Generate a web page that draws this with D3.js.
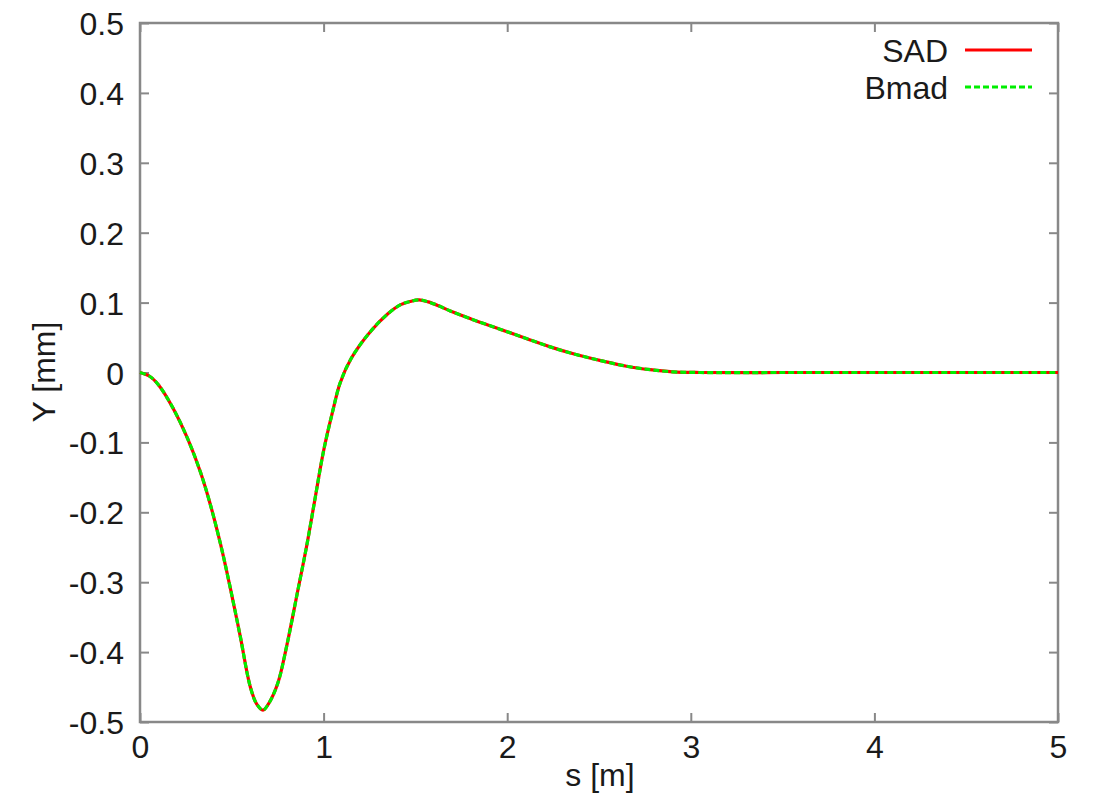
<!DOCTYPE html>
<html>
<head>
<meta charset="utf-8">
<script src="https://cdn.jsdelivr.net/npm/d3@7"></script>
<style>
html,body{margin:0;padding:0;background:#fff;}
svg text{font-family:"Liberation Sans",Arial,sans-serif;fill:#1a1a1a;}
</style>
</head>
<body>
<svg id="chart" width="1093" height="804"></svg>
<script>
const sValues = [0, 0.05, 0.1, 0.18, 0.26, 0.33, 0.38, 0.44, 0.49, 0.545, 0.6, 0.635, 0.67, 0.7, 0.75, 0.8, 0.855, 0.91, 0.955, 1.0, 1.05, 1.09, 1.15, 1.25, 1.35, 1.42, 1.47, 1.52, 1.57, 1.63, 1.69, 1.8, 1.96, 2.1, 2.23, 2.37, 2.51, 2.65, 2.78, 2.9, 3.05, 3.5, 4, 4.5, 5];
const sadY = [0, -0.005, -0.0175, -0.051, -0.095, -0.143, -0.186, -0.247, -0.306, -0.376, -0.449, -0.474, -0.483, -0.474, -0.445, -0.39, -0.318, -0.245, -0.178, -0.112, -0.055, -0.015, 0.02, 0.057, 0.084, 0.097, 0.1015, 0.104, 0.101, 0.095, 0.088, 0.077, 0.062, 0.049, 0.037, 0.026, 0.017, 0.009, 0.004, 0.001, 0, 0, 0, 0, 0];
const bmadY = [0, -0.005, -0.0175, -0.051, -0.095, -0.143, -0.186, -0.247, -0.306, -0.376, -0.449, -0.474, -0.483, -0.474, -0.445, -0.39, -0.318, -0.245, -0.178, -0.112, -0.055, -0.015, 0.02, 0.057, 0.084, 0.097, 0.1015, 0.104, 0.101, 0.095, 0.088, 0.077, 0.062, 0.049, 0.037, 0.026, 0.017, 0.009, 0.004, 0.001, 0, 0, 0, 0, 0];
const xTicks = [0, 1, 2, 3, 4, 5];
const yTicks = [-0.5, -0.4, -0.3, -0.2, -0.1, 0, 0.1, 0.2, 0.3, 0.4, 0.5];
const seriesNames = ["SAD", "Bmad"];

const svg = d3.select("#chart");
const mL = 140, mR = 1058, mT = 23, mB = 722;
const x = d3.scaleLinear().domain([0, 5]).range([mL, mR]);
const y = d3.scaleLinear().domain([-0.5, 0.5]).range([mB, mT]);
const frameColor = "#888";
const fs = 32;

const yFmt = d => d === 0 ? "0" : d.toFixed(1);

const gB = svg.append("g").attr("transform", `translate(0,${mB})`)
  .call(d3.axisBottom(x).tickValues(xTicks).tickFormat(d => String(d)).tickSizeInner(-9).tickSizeOuter(0).tickPadding(13));
const gT = svg.append("g").attr("transform", `translate(0,${mT})`)
  .call(d3.axisTop(x).tickValues(xTicks).tickFormat("").tickSizeInner(-9).tickSizeOuter(0));
const gL = svg.append("g").attr("transform", `translate(${mL},0)`)
  .call(d3.axisLeft(y).tickValues(yTicks).tickFormat(yFmt).tickSizeInner(-9).tickSizeOuter(0).tickPadding(16));
const gR = svg.append("g").attr("transform", `translate(${mR},0)`)
  .call(d3.axisRight(y).tickValues(yTicks).tickFormat("").tickSizeInner(-9).tickSizeOuter(0));
[gB, gT, gL, gR].forEach(g => {
  g.select(".domain").remove();
  g.selectAll(".tick line").attr("stroke", frameColor).attr("stroke-width", 2);
  g.selectAll(".tick text").attr("font-size", fs).attr("fill", "#1a1a1a").attr("font-family", "Liberation Sans, Arial, sans-serif");
});
gL.selectAll(".tick text").attr("dy", "0.36em");
gB.selectAll(".tick text").attr("dy", "0.72em");

svg.append("rect").attr("x", mL).attr("y", mT).attr("width", mR - mL).attr("height", mB - mT)
  .attr("fill", "none").attr("stroke", frameColor).attr("stroke-width", 2.5);

svg.append("text").attr("x", 600).attr("y", 786).attr("text-anchor", "middle").attr("font-size", fs).text("s [m]");
svg.append("text").attr("transform", `translate(55,${372}) rotate(-90)`).attr("text-anchor", "middle").attr("font-size", fs).text("Y [mm]");

const line = d3.line().x((d, i) => x(sValues[i])).y(d => y(d)).curve(d3.curveCatmullRom.alpha(0.5));

svg.append("path").datum(sadY).attr("d", line).attr("fill", "none").attr("stroke", "#ff0000").attr("stroke-width", 3.2);
svg.append("path").datum(bmadY).attr("d", line).attr("fill", "none").attr("stroke", "#00ee00").attr("stroke-width", 3.2).attr("stroke-dasharray", "6,3");

const legColors = ["#ff0000", "#00ee00"];
const legDash = [null, "6,3"];
seriesNames.forEach((name, i) => {
  const yy = 50 + i * 37;
  svg.append("text").attr("x", 948).attr("y", yy).attr("dy", "0.36em").attr("text-anchor", "end").attr("font-size", fs).text(name);
  svg.append("line").attr("x1", 965).attr("x2", 1032).attr("y1", yy).attr("y2", yy)
    .attr("stroke", legColors[i]).attr("stroke-width", 3.2).attr("stroke-dasharray", legDash[i]);
});
</script>
</body>
</html>
